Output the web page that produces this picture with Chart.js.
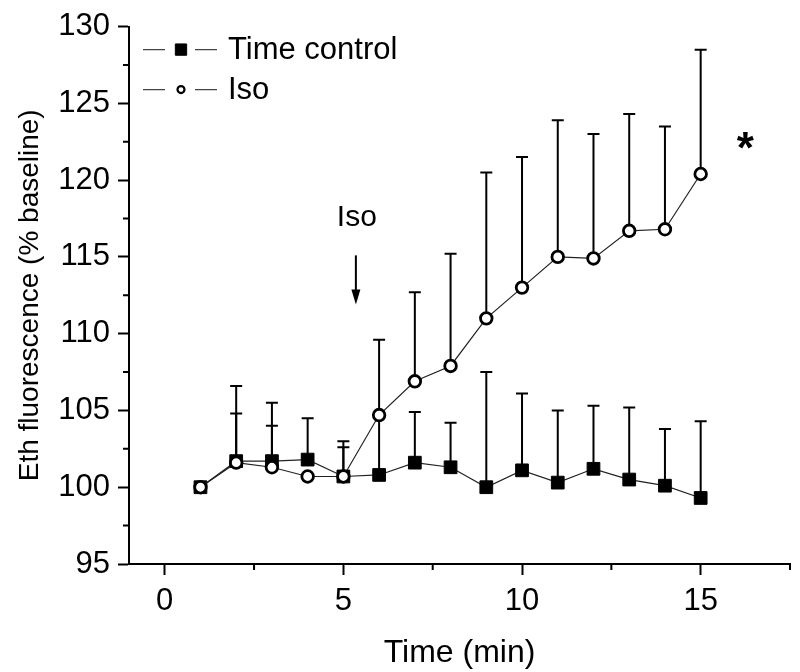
<!DOCTYPE html>
<html>
<head>
<meta charset="utf-8">
<title>Eth fluorescence</title>
<script src="https://cdn.jsdelivr.net/npm/chart.js@4.4.1/dist/chart.umd.min.js"></script>
<style>
  html, body { margin: 0; padding: 0; background: #fff; }
  #wrap { width: 800px; height: 672px; }
</style>
</head>
<body>
<div id="wrap"><canvas id="chart"></canvas></div>
<script>
// Data
const times = [1, 2, 3, 4, 5, 6, 7, 8, 9, 10, 11, 12, 13, 14, 15];
const controlMean = [100.0, 101.7, 101.7, 101.8, 100.7, 100.8, 101.6, 101.3, 100.0, 101.1, 100.3, 101.2, 100.5, 100.1, 99.3];
const controlUpper = [null, 104.8, 104.0, 104.5, 102.6, 104.7, 104.9, 104.2, 107.5, 106.1, 105.0, 105.3, 105.2, 103.8, 104.3];
const isoMean = [100.0, 101.6, 101.3, 100.7, 100.7, 104.7, 106.9, 107.9, 111.0, 113.0, 115.0, 114.9, 116.7, 116.8, 120.4];
const isoUpper = [null, 106.6, 105.5, null, 103.0, 109.6, 112.7, 115.2, 120.5, 121.5, 123.9, 123.0, 124.3, 123.5, 128.5];

const xMajorTicks = [0, 5, 10, 15];
const xMinorTicks = [2.5, 7.5, 12.5, 17.5];
const yMajorTicks = [95, 100, 105, 110, 115, 120, 125, 130];
const yMinorTicks = [97.5, 102.5, 107.5, 112.5, 117.5, 122.5, 127.5];

const seriesLabels = ['Time control', 'Iso'];

// annotation anchors (data units)
const isoArrow = { x: 5.35, from: 115.1, to: 111.9, labelY: 117.0, label: 'Iso' };
const starMark = { x: 16.25, y: 122.4, text: '*' };

const FONT = '"Liberation Sans", Arial, sans-serif';

const toPoints = (xs, ys) => xs.map((x, i) => ({ x: x, y: ys[i] }));

// error bars (upper only), drawn under the markers
const errorBars = {
  id: 'errorBars',
  beforeDatasetsDraw(chart) {
    const { ctx, scales: { x, y } } = chart;
    const sets = [controlUpper, isoUpper];
    const means = [controlMean, isoMean];
    ctx.save();
    ctx.strokeStyle = '#000';
    ctx.lineWidth = 2;
    sets.forEach((upper, s) => {
      upper.forEach((u, i) => {
        if (u === null) return;
        const px = x.getPixelForValue(times[i]);
        const py0 = y.getPixelForValue(means[s][i]);
        const py1 = y.getPixelForValue(u);
        ctx.beginPath();
        ctx.moveTo(px, py0);
        ctx.lineTo(px, py1);
        ctx.moveTo(px - 6, py1);
        ctx.lineTo(px + 6, py1);
        ctx.stroke();
      });
    });
    ctx.restore();
  }
};

// minor ticks, legend and the annotations
const extras = {
  id: 'extras',
  afterDraw(chart) {
    const { ctx, chartArea: area, scales: { x, y } } = chart;
    ctx.save();
    ctx.strokeStyle = '#000';
    ctx.lineWidth = 2;
    ctx.beginPath();
    xMinorTicks.forEach(v => {
      const px = x.getPixelForValue(v);
      ctx.moveTo(px, area.bottom);
      ctx.lineTo(px, area.bottom + 6);
    });
    yMinorTicks.forEach(v => {
      const py = y.getPixelForValue(v);
      ctx.moveTo(area.left, py);
      ctx.lineTo(area.left - 6, py);
    });
    ctx.stroke();

    // legend: line - marker - line, then label
    const rows = [
      { style: 'rect', radius: 8, bg: '#000', bw: 1 },
      { style: 'circle', radius: 3.5, bg: '#fff', bw: 2.2 }
    ];
    rows.forEach((r, i) => {
      const ly = area.top + 23 + i * 40;
      const lx = area.left + 14;
      ctx.strokeStyle = '#444';
      ctx.lineWidth = 1.2;
      ctx.beginPath();
      ctx.moveTo(lx, ly); ctx.lineTo(lx + 22, ly);
      ctx.moveTo(lx + 52, ly); ctx.lineTo(lx + 74, ly);
      ctx.stroke();
      ctx.fillStyle = r.bg;
      ctx.strokeStyle = '#000';
      ctx.lineWidth = r.bw;
      Chart.helpers.drawPoint(ctx, { pointStyle: r.style, radius: r.radius, borderWidth: r.bw }, lx + 38, ly);
      ctx.fillStyle = '#000';
      ctx.font = '31px ' + FONT;
      ctx.textAlign = 'left';
      ctx.textBaseline = 'middle';
      ctx.fillText(seriesLabels[i], lx + 85, ly + 1);
    });

    // Iso arrow
    const ax = x.getPixelForValue(isoArrow.x);
    const ay0 = y.getPixelForValue(isoArrow.from);
    const ay1 = y.getPixelForValue(isoArrow.to);
    ctx.strokeStyle = '#000';
    ctx.fillStyle = '#000';
    ctx.lineWidth = 2;
    ctx.beginPath();
    ctx.moveTo(ax, ay0);
    ctx.lineTo(ax, ay1 - 12);
    ctx.stroke();
    ctx.beginPath();
    ctx.moveTo(ax - 4.5, ay1 - 15);
    ctx.lineTo(ax + 4.5, ay1 - 15);
    ctx.lineTo(ax, ay1);
    ctx.closePath();
    ctx.fill();
    ctx.font = '30px ' + FONT;
    ctx.textAlign = 'center';
    ctx.textBaseline = 'alphabetic';
    ctx.fillText(isoArrow.label, ax + 1, y.getPixelForValue(isoArrow.labelY));

    // significance mark
    ctx.font = 'bold 44px ' + FONT;
    ctx.textBaseline = 'middle';
    ctx.fillText(starMark.text, x.getPixelForValue(starMark.x), y.getPixelForValue(starMark.y) + 8);
    ctx.restore();
  }
};

new Chart(document.getElementById('chart'), {
  type: 'line',
  data: {
    datasets: [
      {
        label: seriesLabels[0],
        data: toPoints(times, controlMean),
        borderColor: '#222',
        borderWidth: 1.2,
        pointStyle: 'rect',
        pointRadius: 9,
        pointBackgroundColor: '#000',
        pointBorderColor: '#000',
        pointBorderWidth: 1,
        order: 2
      },
      {
        label: seriesLabels[1],
        data: toPoints(times, isoMean),
        borderColor: '#222',
        borderWidth: 1.2,
        pointStyle: 'circle',
        pointRadius: 5.8,
        pointBackgroundColor: '#fff',
        pointBorderColor: '#000',
        pointBorderWidth: 2.8,
        order: 1
      }
    ]
  },
  options: {
    responsive: true,
    maintainAspectRatio: false,
    animation: false,
    layout: { padding: { top: 25, right: 7, left: 0, bottom: 0 } },
    plugins: {
      legend: { display: false },
      tooltip: { enabled: false }
    },
    scales: {
      x: {
        type: 'linear',
        min: -1,
        max: 17.5,
        afterBuildTicks: (scale) => {
          scale.ticks = xMajorTicks.map(v => ({ value: v }));
        },
        afterFit: (scale) => { scale.height = 108; },
        grid: {
          display: true,
          drawOnChartArea: false,
          drawTicks: true,
          tickLength: 11,
          tickWidth: 2,
          tickColor: '#000'
        },
        border: { display: true, color: '#000', width: 2 },
        ticks: {
          padding: 8,
          color: '#000',
          font: { family: FONT, size: 31 },
          maxRotation: 0,
          autoSkip: false
        },
        title: {
          display: true,
          text: 'Time (min)',
          color: '#000',
          font: { family: FONT, size: 32 },
          padding: { top: 0, bottom: 0 }
        }
      },
      y: {
        type: 'linear',
        min: 95,
        max: 130,
        afterBuildTicks: (scale) => {
          scale.ticks = yMajorTicks.map(v => ({ value: v }));
        },
        afterFit: (scale) => { scale.width = 129; },
        grid: {
          display: true,
          drawOnChartArea: false,
          drawTicks: true,
          tickLength: 11,
          tickWidth: 2,
          tickColor: '#000'
        },
        border: { display: true, color: '#000', width: 2 },
        ticks: {
          padding: 8,
          color: '#000',
          font: { family: FONT, size: 31 },
          autoSkip: false
        },
        title: {
          display: true,
          text: 'Eth fluorescence (% baseline)',
          color: '#000',
          font: { family: FONT, size: 28 },
          padding: { top: 13, bottom: 0 }
        }
      }
    }
  },
  plugins: [errorBars, extras]
});
</script>
</body>
</html>
